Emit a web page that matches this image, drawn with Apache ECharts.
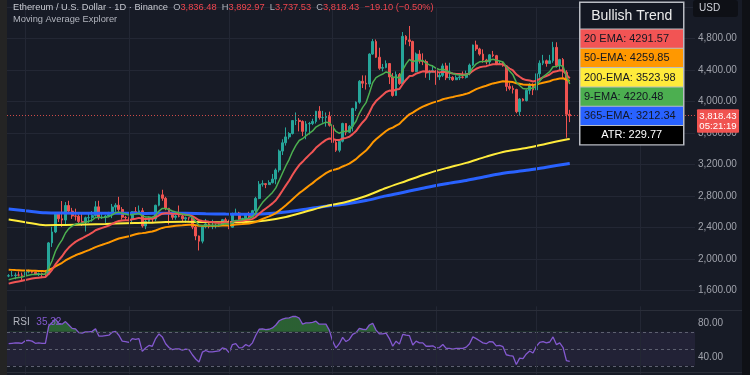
<!DOCTYPE html>
<html><head><meta charset="utf-8">
<script src="https://cdn.jsdelivr.net/npm/echarts@6/dist/echarts.min.js"></script>
<style>html,body{margin:0;padding:0;background:#171b26;}#c{width:750px;height:375px;}</style>
</head><body><div id="c"></div>
<script>
// ---------- DATA (ETH/USD daily) ----------
const startDay = [2025, 3, 26];   // first candle: 26 Apr 2025
const totalSlots = 206;           // candles + empty space to the right

const opens = [1786,1789,1792,1799,1798,1794,1838,1842,1834,1808,1816,1812,1810,2206,2345,2581,2512,2496,2680,2609,2548,2545,2478,2467,2525,2527,2552,2663,2527,2530,2547,2563,2660,2684,2630,2531,2527,2508,2602,2595,2613,2420,2480,2525,2510,2683,2815,2771,2645,2578,2530,2547,2545,2511,2525,2522,2407,2294,2228,2411,2447,2418,2421,2424,2437,2500,2486,2405,2570,2585,2507,2515,2570,2540,2615,2770,2950,2957,2945,2970,3015,3130,3370,3475,3550,3593,3757,3760,3745,3620,3715,3720,3745,3875,3795,3795,3810,3697,3480,3380,3495,3720,3610,3685,3910,3990,4255,4230,4220,4600,4760,4560,4420,4430,4480,4310,4075,4340,4225,4825,4780,4760,4380,4600,4510,4505,4360,4370,4390,4310,4330,4450,4300,4305,4275,4300,4310,4305,4350,4460,4715,4665,4600,4525,4500,4590,4580,4470,4480,4450,4190,4165,4150,3870,4030,4010,4140,4215,4145,4350,4485,4515,4480,4515,4685,4455,4530,4370,3836.48];
const closes = [1789,1792,1799,1798,1794,1838,1842,1834,1808,1816,1812,1810,2206,2345,2581,2512,2496,2680,2609,2548,2545,2478,2467,2525,2527,2552,2663,2527,2530,2547,2563,2660,2684,2630,2531,2527,2508,2602,2595,2613,2420,2480,2525,2510,2683,2815,2771,2645,2578,2530,2547,2545,2511,2525,2522,2407,2294,2228,2411,2447,2418,2421,2424,2437,2500,2486,2405,2570,2585,2507,2515,2570,2540,2615,2770,2950,2957,2945,2970,3015,3130,3370,3475,3550,3593,3757,3760,3745,3620,3715,3720,3745,3875,3795,3795,3810,3697,3480,3380,3495,3720,3610,3685,3910,3990,4255,4230,4220,4600,4760,4560,4420,4430,4480,4310,4075,4340,4225,4825,4780,4760,4380,4600,4510,4505,4360,4370,4390,4310,4330,4450,4300,4305,4275,4300,4310,4305,4350,4460,4715,4665,4600,4525,4500,4590,4580,4470,4480,4450,4190,4165,4150,3870,4030,4010,4140,4215,4145,4350,4485,4515,4480,4515,4685,4455,4530,4370,3836,3818.43];
const lows = [1771,1780,1745,1780,1736,1790,1820,1820,1800,1785,1760,1780,1800,2155,2330,2470,2410,2440,2580,2510,2490,2440,2420,2350,2460,2475,2540,2500,2510,2460,2540,2520,2600,2600,2500,2490,2480,2470,2585,2580,2400,2380,2470,2470,2480,2670,2740,2620,2440,2500,2500,2530,2480,2460,2490,2380,2240,2110,2200,2390,2390,2380,2390,2410,2420,2450,2380,2400,2560,2490,2500,2500,2520,2530,2590,2760,2920,2900,2940,2960,2950,3100,3320,3440,3520,3580,3700,3620,3560,3520,3580,3700,3720,3770,3730,3680,3680,3450,3360,3355,3480,3570,3600,3620,3880,3970,4170,4150,4180,4590,4550,4400,4380,4420,4220,4060,4070,4210,4220,4720,4700,4370,4370,4480,4460,4300,4270,4370,4210,4270,4310,4270,4270,4260,4270,4270,4290,4290,4330,4450,4640,4580,4490,4470,4460,4560,4460,4470,4440,4130,4140,4100,3850,3820,4000,4000,4090,4080,4140,4300,4460,4440,4480,4490,4430,4400,4300,3540,3737.53];
const highs = [1810,1850,1830,1843,1830,1873,1866,1850,1842,1830,1830,1863,2218,2410,2597,2592,2737,2724,2740,2650,2640,2570,2580,2540,2585,2610,2735,2740,2580,2560,2600,2700,2710,2790,2660,2550,2540,2610,2660,2680,2650,2525,2540,2540,2690,2830,2880,2790,2650,2600,2560,2680,2590,2540,2530,2530,2420,2300,2420,2510,2460,2500,2450,2450,2510,2525,2500,2590,2640,2600,2525,2585,2600,2625,2790,2990,3000,2960,3000,3080,3150,3390,3520,3670,3610,3760,3860,3790,3760,3750,3740,3780,3880,3940,3880,3860,3870,3745,3520,3500,3730,3725,3700,3920,4000,4270,4330,4330,4610,4790,4785,4680,4475,4520,4480,4360,4380,4360,4880,4840,4956,4770,4620,4650,4610,4530,4400,4460,4400,4370,4480,4490,4490,4320,4330,4330,4380,4390,4480,4720,4770,4680,4660,4540,4600,4640,4590,4510,4500,4460,4240,4200,4160,4040,4040,4150,4230,4230,4370,4520,4590,4530,4590,4755,4750,4540,4550,4395,3892.97];

const ema9 = [1740,1750,1760,1768,1773,1786,1797,1805,1805,1807,1808,1809,1888,1980,2100,2182,2245,2332,2387,2420,2445,2451,2454,2469,2480,2495,2528,2528,2528,2532,2538,2563,2587,2596,2583,2572,2559,2567,2573,2581,2549,2535,2533,2528,2559,2610,2643,2643,2630,2610,2597,2587,2572,2562,2554,2525,2479,2429,2425,2429,2427,2426,2426,2428,2442,2451,2442,2467,2491,2494,2498,2513,2518,2538,2584,2657,2717,2763,2804,2846,2903,2997,3092,3184,3266,3364,3443,3504,3527,3564,3596,3625,3675,3699,3718,3737,3729,3679,3619,3594,3620,3618,3631,3687,3748,3849,3925,3984,4107,4238,4302,4326,4347,4373,4361,4304,4311,4294,4400,4476,4533,4502,4522,4519,4517,4485,4462,4448,4420,4402,4412,4389,4373,4353,4342,4336,4330,4334,4359,4430,4477,4502,4506,4505,4522,4534,4521,4513,4500,4438,4384,4337,4243,4201,4163,4158,4170,4165,4202,4258,4310,4344,4378,4439,4443,4460,4442,4321,4220.48];
const ema20 = [1690,1700,1710,1718,1725,1736,1746,1754,1760,1765,1769,1773,1815,1865,1933,1988,2037,2098,2147,2185,2219,2244,2265,2290,2312,2335,2366,2382,2396,2410,2425,2447,2470,2485,2489,2493,2494,2505,2513,2523,2513,2510,2511,2511,2528,2555,2576,2582,2582,2577,2574,2571,2566,2562,2558,2544,2520,2492,2484,2481,2475,2470,2465,2463,2466,2468,2462,2472,2483,2485,2488,2496,2500,2511,2536,2575,2612,2643,2674,2707,2747,2806,2870,2935,2997,3070,3135,3193,3234,3280,3322,3362,3411,3447,3481,3512,3530,3525,3511,3510,3530,3537,3551,3585,3624,3684,3736,3782,3860,3946,4004,4044,4081,4119,4137,4131,4151,4158,4221,4275,4321,4326,4352,4367,4381,4379,4378,4379,4372,4368,4376,4369,4363,4354,4349,4346,4342,4342,4354,4388,4414,4432,4441,4447,4460,4472,4471,4472,4470,4443,4417,4392,4342,4312,4283,4270,4265,4253,4262,4284,4306,4322,4341,4373,4381,4395,4393,4340,4291.57];
const ema50 = [1867,1864,1861,1859,1856,1856,1855,1854,1853,1851,1850,1848,1862,1881,1908,1932,1954,1983,2007,2028,2049,2066,2081,2099,2115,2133,2153,2168,2182,2197,2211,2229,2246,2261,2272,2282,2291,2303,2315,2326,2330,2336,2343,2350,2363,2381,2396,2406,2412,2417,2422,2427,2430,2434,2437,2436,2431,2423,2422,2423,2423,2423,2423,2424,2427,2429,2428,2434,2439,2442,2445,2450,2453,2460,2472,2491,2509,2526,2543,2562,2584,2615,2649,2684,2720,2760,2799,2837,2867,2900,2933,2964,3000,3031,3061,3091,3114,3129,3139,3153,3175,3192,3211,3239,3268,3307,3343,3377,3425,3478,3520,3555,3590,3625,3651,3668,3694,3715,3759,3799,3836,3858,3887,3911,3934,3951,3968,3984,3997,4010,4027,4038,4048,4057,4067,4076,4085,4096,4110,4134,4155,4172,4186,4198,4214,4228,4237,4247,4255,4252,4249,4245,4230,4223,4214,4211,4211,4209,4214,4225,4236,4246,4256,4273,4280,4290,4293,4275,4259.85];
// slow EMAs: [candle index, value]
const ema200 = [[0,2503],[5,2469],[11,2431],[17,2433],[23,2439],[29,2446],[35,2455],[41,2460],[47,2471],[53,2475],[59,2470],[65,2469],[71,2472],[77,2491],[83,2535],[89,2603],[95,2672],[101,2724],[107,2801],[113,2902],[119,2991],[125,3080],[131,3154],[137,3221],[143,3300],[149,3368],[155,3408],[161,3464],[167,3518],[168,3523.98]];
const ema365 = [[0,2635],[5,2613],[11,2587],[17,2584],[23,2582],[29,2581],[35,2582],[41,2580],[47,2583],[53,2581],[59,2575],[65,2571],[71,2569],[77,2577],[83,2598],[89,2634],[95,2671],[101,2700],[107,2743],[113,2802],[119,2854],[125,2908],[131,2955],[137,2998],[143,3049],[149,3095],[155,3126],[161,3166],[167,3206],[168,3212.34]];
const rsi = [56,56.5,57,56.8,56.5,59.5,60,59,56.5,57,56.5,56.3,77,81,85,80,79,82,78,74,73.5,69,68.5,70,70,70.5,73.5,65,65,65.5,66,69.5,70.5,66,59,58.5,57.5,62,61,62,47,51,54,53,62,67.5,64,56,51.5,49,50,50,48.5,49.5,49,43,38,34.5,46,48,46.5,46.5,47,47.5,51,50,45.5,55,56,51,51.5,55,53,57,66,73,73.5,72.5,73,74.5,78,83,85,86,86.5,88,88,86,79,80.5,80.5,81,82.5,79,79,79,72,59,51,56,63.5,58.5,61,67,69,74,73,72.5,78,80,72,67.5,67.5,68.5,62,53,59,55.5,67,66,65.5,54.5,59,57,57,53,53,53.5,51,51.5,55,50.5,50.5,49.5,50.5,50.5,50.5,52,56,64,62,59.5,57,56,58.5,58,53.5,54,52.5,43,42,41.5,31.5,39,38.5,44,47.5,45,53,57.5,58.5,57,58,64,55,57,51.5,36,35.32];

const monthStarts = ['2025-05-01','2025-06-01','2025-07-01','2025-08-01','2025-09-01','2025-10-01','2025-11-01'];
const rsiLevels = [70, 50, 30];
const lastPrice = 3818.43;
const lastPriceText = '3,818.43';
const countdown = '05:21:19';
const headerTitle = 'Ethereum / U.S. Dollar · 1D · Binance';
const headerOHLC = [['O','3,836.48'],['H','3,892.97'],['L','3,737.53'],['C','3,818.43']];
const headerChange = '−19.10 (−0.50%)';
const indicatorName = 'Moving Average Explorer';
const rsiValueText = '35.32';
const tableTitle = 'Bullish Trend';
const tableLabels = ['20 EMA: 4291.57','50-EMA: 4259.85','200-EMA: 3523.98','9-EMA: 4220.48','365-EMA: 3212.34','ATR: 229.77'];

// ---------- BUILD ----------
const cats = [];
const t0 = Date.UTC(startDay[0], startDay[1], startDay[2]);
for (let i = 0; i < totalSlots; i++) cats.push(new Date(t0 + i * 86400000).toISOString().slice(0, 10));
const candles = opens.map((o, i) => [o, closes[i], lows[i], highs[i]]);

const FONT = '"Liberation Sans", Arial, sans-serif';
const GRID_COL = '#232734';
const AX_COL = '#a0a3ac';
const rowFills = ['#f25454', '#ff9800', '#ffeb3b', '#4caf50', '#2962ff', '#000000'];

const chart = echarts.init(document.getElementById('c'), null, {renderer: 'canvas', width: 750, height: 375});

const hiddenCat = (gi) => ({type: 'category', gridIndex: gi, data: cats, boundaryGap: true,
  axisLine: {show: false}, axisTick: {show: false}, axisLabel: {show: false}, splitLine: {show: false}});
const vLines = () => monthStarts.map(m => ({xAxis: m, lineStyle: {type: 'solid', color: GRID_COL, width: 1}}));
const lineSeries = (data, color, width, smooth) => ({type: 'line', xAxisIndex: 0, yAxisIndex: 0, data,
  showSymbol: false, symbol: 'none', smooth: smooth || false, silent: true,
  lineStyle: {color, width}, z: 3});

const option = {
  backgroundColor: '#171b26',
  animation: false,
  grid: [{left: 7, right: 55, top: 6.75, height: 283.95}, {left: 7, right: 55, top: 306.3, height: 68}],
  xAxis: [hiddenCat(0), hiddenCat(1)],
  yAxis: [
    {type: 'value', gridIndex: 0, position: 'right', min: 1600, max: 5200, interval: 400,
     axisLine: {show: false}, axisTick: {show: false},
     axisLabel: {color: AX_COL, fontSize: 10, fontFamily: FONT, margin: 3,
       formatter: v => v >= 5200 ? '' : v.toLocaleString('en-US', {minimumFractionDigits: 2, maximumFractionDigits: 2})},
     splitLine: {lineStyle: {color: GRID_COL, width: 1}}},
    {type: 'value', gridIndex: 1, position: 'right', min: 20, max: 100, interval: 20,
     axisLine: {show: false}, axisTick: {show: false},
     axisLabel: {color: AX_COL, fontSize: 10, fontFamily: FONT, margin: 3,
       formatter: v => (v === 40 || v === 80) ? v.toFixed(2) : ''},
     splitLine: {show: false}}
  ],
  visualMap: [{type: 'piecewise', show: false, seriesIndex: 7, dimension: 1,
    pieces: [{gt: 70, lte: 100, color: 'rgba(56,142,60,0.6)'}, {gte: 0, lte: 70, color: 'rgba(56,142,60,0)'}]}],
  series: [
    {type: 'line', xAxisIndex: 0, yAxisIndex: 0, data: [], silent: true, z: 1,
     markLine: {silent: true, symbol: 'none', label: {show: false}, data: vLines()}},
    {type: 'candlestick', xAxisIndex: 0, yAxisIndex: 0, data: candles, barWidth: '68%', z: 2,
     itemStyle: {color: '#26a69a', color0: '#ef5350', borderColor: '#26a69a', borderColor0: '#ef5350', borderWidth: 1},
     markLine: {silent: true, symbol: 'none', label: {show: false},
       data: [{yAxis: lastPrice, lineStyle: {type: [1, 2], color: '#ef5350', width: 1, opacity: 0.85}}]}},
    lineSeries(ema365, '#2962ff', 3, 0.3),
    lineSeries(ema200, '#ffeb3b', 2, 0.3),
    lineSeries(ema50, '#ff9800', 2),
    lineSeries(ema20, '#f05454', 2),
    lineSeries(ema9, '#4caf50', 1.5),
    {type: 'line', xAxisIndex: 1, yAxisIndex: 1, data: rsi, showSymbol: false, symbol: 'none', silent: true,
     lineStyle: {width: 0, opacity: 0}, areaStyle: {origin: 70, opacity: 1}, z: 2},
    {type: 'line', xAxisIndex: 1, yAxisIndex: 1, data: rsi, showSymbol: false, symbol: 'none', silent: true,
     lineStyle: {color: '#8459d0', width: 1.3}, z: 3,
     markArea: {silent: true, itemStyle: {color: 'rgba(126,87,194,0.11)'}, data: [[{yAxis: 30}, {yAxis: 70}]]},
     markLine: {silent: true, symbol: 'none', label: {show: false},
       data: rsiLevels.map(v => ({yAxis: v, lineStyle: {type: [3, 3], color: '#5d6070', width: 1}})).concat(vLines())}}
  ]
};
chart.setOption(option);

const g = [];
// side strips
g.push({type: 'rect', shape: {x: 0, y: 0, width: 7, height: 375}, style: {fill: '#242424'}, z: 100});
g.push({type: 'rect', shape: {x: 742, y: 0, width: 8, height: 375}, style: {fill: '#0f1116'}, z: 100});
// RSI pane separators
g.push({type: 'line', shape: {x1: 7, y1: 310.5, x2: 742, y2: 310.5}, style: {stroke: '#2a2e39', lineWidth: 1}, z: 50});
g.push({type: 'line', shape: {x1: 7, y1: 372.5, x2: 742, y2: 372.5}, style: {stroke: '#2a2e39', lineWidth: 1}, z: 50});
// header
const richHeader = {
  t: {fill: '#c8cad1', font: '9.3px ' + FONT},
  l: {fill: '#b2b5be', font: '9.3px ' + FONT},
  v: {fill: '#f0464f', font: '9.3px ' + FONT}
};
let htxt = '{t|' + headerTitle + '}  ';
headerOHLC.forEach(p => { htxt += '{l|' + p[0] + '}{v|' + p[1] + '}  '; });
htxt += '{v|' + headerChange + '}';
g.push({type: 'text', x: 13, y: 7.5, z: 60, style: {text: htxt, rich: richHeader, verticalAlign: 'middle', font: '9.3px ' + FONT, fill: '#c8cad1'}});
g.push({type: 'text', x: 13, y: 19.5, z: 60, style: {text: indicatorName, verticalAlign: 'middle', font: '9.3px ' + FONT, fill: '#b2b5be'}});
// RSI label
g.push({type: 'text', x: 13, y: 322, z: 60, style: {text: '{l|RSI}  {v|' + rsiValueText + '}', verticalAlign: 'middle',
  rich: {l: {fill: '#b2b5be', font: '10px ' + FONT}, v: {fill: '#8459d0', font: '10px ' + FONT}}}});
// USD box
g.push({type: 'rect', shape: {x: 693, y: 0, width: 45, height: 17, r: 3}, style: {fill: '#0e1016'}, z: 60});
g.push({type: 'text', x: 699, y: 8.5, z: 61, style: {text: 'USD', verticalAlign: 'middle', font: '10px ' + FONT, fill: '#d1d4dc'}});
// price tag (y from the library's scale)
let py = 116;
try { const p = chart.convertToPixel({gridIndex: 0}, [0, lastPrice]); if (p && isFinite(p[1])) py = p[1]; } catch (e) {}
g.push({type: 'rect', shape: {x: 697, y: py - 6.5, width: 42, height: 23.5, r: 1}, style: {fill: '#f05350'}, z: 70});
g.push({type: 'text', x: 718, y: py + 0.3, z: 71, style: {text: lastPriceText, align: 'center', verticalAlign: 'middle', font: '9.6px ' + FONT, fill: '#ffffff'}});
g.push({type: 'text', x: 718, y: py + 10.6, z: 71, style: {text: countdown, align: 'center', verticalAlign: 'middle', font: '9.6px ' + FONT, fill: '#ffffff'}});
// table
g.push({type: 'rect', shape: {x: 579, y: 1.5, width: 105.5, height: 144}, style: {fill: '#b9bcc3'}, z: 80});
g.push({type: 'rect', shape: {x: 580.5, y: 3, width: 102.5, height: 25.5}, style: {fill: '#131722'}, z: 81});
g.push({type: 'text', x: 631.75, y: 16, z: 82, style: {text: tableTitle, align: 'center', verticalAlign: 'middle', font: '14px ' + FONT, fill: '#ececec'}});
tableLabels.forEach((lab, i) => {
  const y = 29.5 + i * 19.3;
  g.push({type: 'rect', shape: {x: 580.5, y, width: 102.5, height: 18.3}, style: {fill: rowFills[i]}, z: 81});
  const last = i === tableLabels.length - 1;
  g.push({type: 'text', x: last ? 631.75 : 584, y: y + 9.4, z: 82,
    style: {text: lab, align: last ? 'center' : 'left', verticalAlign: 'middle', font: '11px ' + FONT, fill: last ? '#ffffff' : '#131722'}});
});
chart.setOption({graphic: g});
</script>
</body></html>
